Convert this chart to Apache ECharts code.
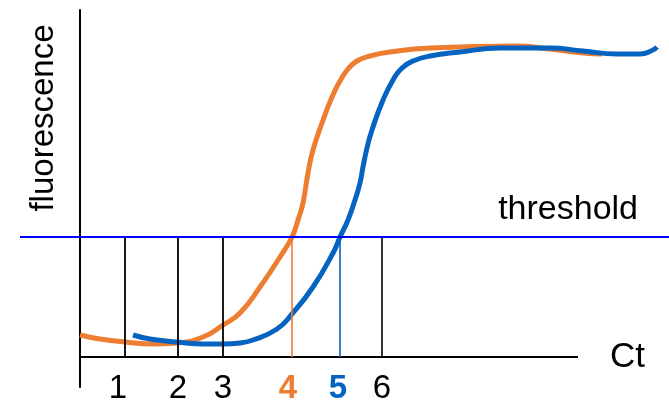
<!DOCTYPE html>
<html>
<head>
<meta charset="utf-8">
<style>
  html, body { margin: 0; padding: 0; background: #ffffff; }
  #chart { width: 669px; height: 402px; }
</style>
<script src="https://cdn.jsdelivr.net/npm/echarts@6/dist/echarts.min.js"></script>
</head>
<body>
<div id="chart"></div>
<script>
// Amplification curves: [cycle, fluorescence]
const sampleA = [
  [0, 2.2], [2, 1.8], [4.5, 1.5], [7.3, 1.3], [9.7, 1.4], [12.3, 2.0], [14.3, 3.2],
  [16, 4.4], [18, 7.0], [20, 10.0], [21.2, 12.0], [21.8, 13.7], [22.3, 15.4],
  [22.8, 18.4], [23.3, 20.7], [24.2, 23.4], [25.2, 26.0], [26.0, 27.6], [26.8, 28.8],
  [27.7, 29.6], [29.0, 30.1], [31, 30.5], [35, 30.9], [43.7, 31.1], [47, 30.8],
  [50.3, 30.4], [52.2, 30.3]
];
const sampleB = [
  [5.3, 2.2], [7, 1.8], [9.7, 1.5], [12.3, 1.3], [14.3, 1.3], [16, 1.4], [17.3, 1.7],
  [19.7, 2.8], [21.2, 4.3], [23.3, 7.0], [25.3, 10.4], [26.0, 12.0], [26.8, 13.7],
  [27.5, 15.7], [28.0, 17.4], [28.3, 19.0], [28.7, 20.9], [29.2, 22.7], [30.3, 25.7],
  [31.3, 27.7], [32.2, 28.9], [33.3, 29.6], [35, 30.1], [38, 30.5], [42, 30.9], [47, 30.9],
  [50.3, 30.6], [53.7, 30.3], [56, 30.3], [57.3, 30.7], [57.7, 31.0]
];

// Threshold level and cycle markers
const threshold = 12;
const ctValues = [4.5, 9.8, 14.3, 21.2, 26.0, 30.2];
const ctLabels = ['1', '2', '3', '4', '5', '6'];
const ctStyles = ['one', 'plain', 'plain', 'a', 'b', 'plain'];
const axisEnd = 49.8;

const colorA = '#ED7D31';
const colorB = '#0563C1';
const markerColors = ['#000000', '#000000', '#000000', colorA, colorB, '#000000'];

const FONT = 'Liberation Sans';

const chart = echarts.init(document.getElementById('chart'), null, { renderer: 'canvas' });

chart.setOption({
  animation: false,
  backgroundColor: '#ffffff',
  grid: { left: 20, right: 0, top: 10, bottom: 15, containLabel: false, outerBoundsMode: 'none' },
  xAxis: {
    type: 'value',
    min: -6,
    max: 58.9,
    offset: -30,
    axisLine: { show: false, onZero: false },
    axisTick: { show: false },
    splitLine: { show: false },
    axisLabel: {
      customValues: ctValues,
      margin: 15,
      fontFamily: FONT,
      fontSize: 33,
      color: '#000',
      formatter: function (v) {
        const i = ctValues.indexOf(v);
        return '{' + ctStyles[i] + '|' + ctLabels[i] + '}';
      },
      rich: {
        plain: { fontFamily: FONT, fontSize: 33, color: '#000' },
        one: { fontFamily: FONT, fontSize: 33, color: '#000', padding: [0, 14, 0, 0] },
        a: { fontFamily: FONT, fontSize: 33, color: colorA, fontWeight: 'bold', padding: [0, 8, 0, 0] },
        b: { fontFamily: FONT, fontSize: 33, color: colorB, fontWeight: 'bold', padding: [0, 4, 0, 0] }
      }
    }
  },
  yAxis: {
    type: 'value',
    min: -3,
    max: 34.7,
    axisLine: { show: true, onZero: true, lineStyle: { color: '#000', width: 2 } },
    axisTick: { show: false },
    axisLabel: { show: false },
    splitLine: { show: false }
  },
  graphic: [
    {
      type: 'text',
      x: 44,
      y: 118,
      rotation: Math.PI / 2,
      style: {
        text: 'fluorescence',
        fontFamily: FONT,
        fontSize: 33,
        fill: '#000',
        align: 'center',
        verticalAlign: 'middle'
      }
    }
  ],
  series: [
    {
      type: 'line',
      data: sampleA,
      smooth: 0.5,
      showSymbol: false,
      lineStyle: { color: colorA, width: 5 },
      z: 2
    },
    {
      type: 'line',
      data: sampleB,
      smooth: 0.5,
      showSymbol: false,
      lineStyle: { color: colorB, width: 5 },
      z: 3
    },
    {
      // horizontal cycle axis with its title
      type: 'line',
      data: [[0, 0], [axisEnd, 0]],
      showSymbol: false,
      lineStyle: { color: '#000', width: 2 },
      endLabel: {
        show: true,
        formatter: 'Ct',
        distance: 32,
        fontFamily: FONT,
        fontSize: 35,
        color: '#000'
      },
      z: 4
    },
    {
      // drop lines from threshold to the cycle axis, plus the threshold itself
      type: 'line',
      data: [],
      z: 5,
      markLine: {
        silent: true,
        symbol: 'none',
        animation: false,
        data: ctValues.map(function (v, i) {
          return [
            { coord: [v, 0], lineStyle: { color: markerColors[i], width: i >= 3 ? 1.6 : 1.8, type: 'solid' } },
            { coord: [v, threshold] }
          ];
        }).concat([
          {
            yAxis: threshold,
            lineStyle: { color: '#0000FF', width: 2, type: 'solid' },
            label: {
              show: true,
              formatter: 'threshold',
              position: 'insideEndTop',
              distance: [31, 10],
              fontFamily: FONT,
              fontSize: 34,
              color: '#000'
            }
          }
        ]),
        label: { show: false }
      }
    }
  ]
});
</script>
</body>
</html>
